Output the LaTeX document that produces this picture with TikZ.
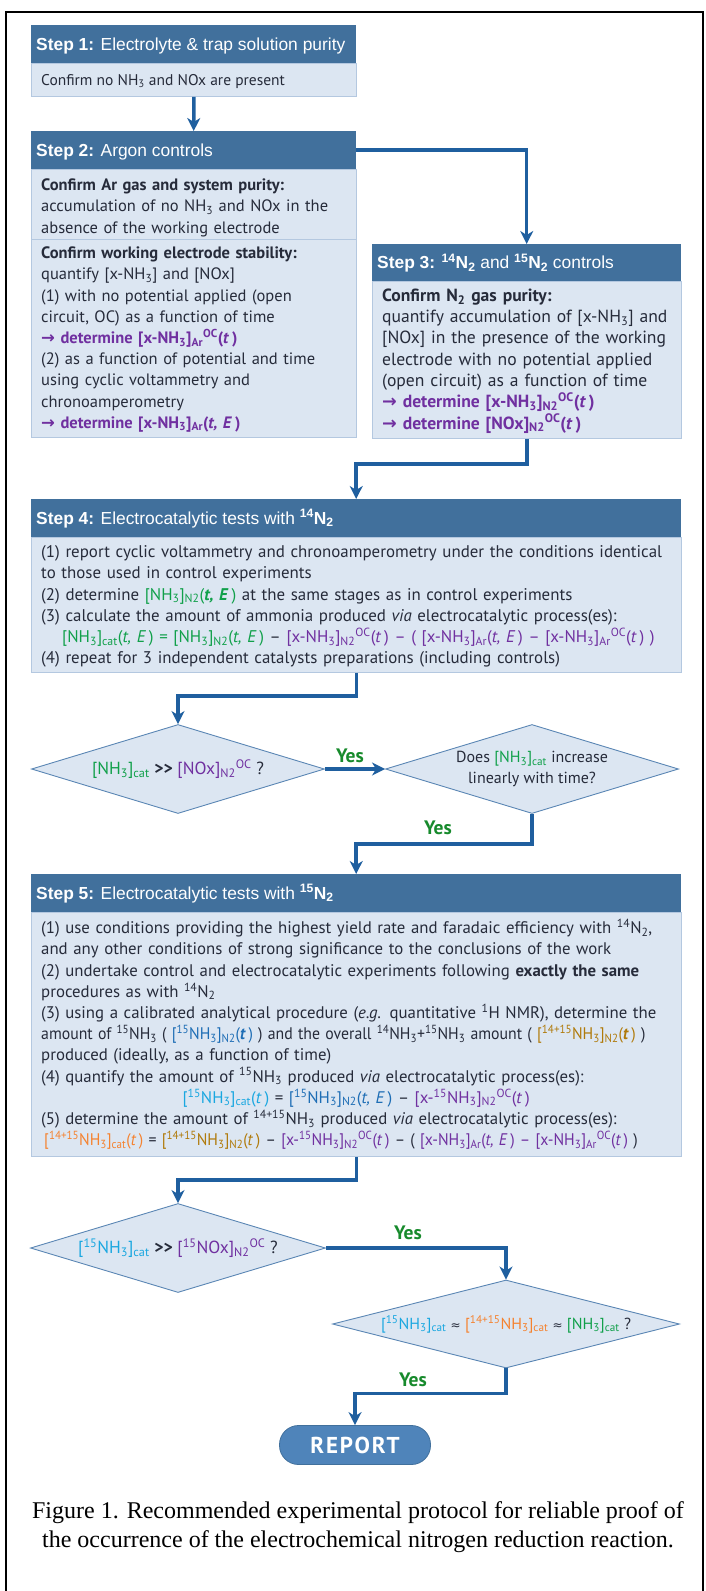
\documentclass[tikz,border=0pt]{standalone}
\usepackage{fontspec}
\setmainfont{PT Sans}
\newfontfamily\hdrf{Liberation Sans}
\newfontfamily\symf{DejaVu Sans}
\newfontfamily\capf{Liberation Serif}
\usetikzlibrary{arrows.meta,shapes.geometric,calc}
\definecolor{hdr}{HTML}{41709C}
\definecolor{bodyc}{HTML}{DCE6F2}
\definecolor{bodyb}{HTML}{B4C8E0}
\definecolor{connc}{HTML}{1F5F9F}
\definecolor{txt}{HTML}{262B3A}
\definecolor{grn}{HTML}{10A04A}
\definecolor{pur}{HTML}{7030A0}
\definecolor{cyn}{HTML}{1AA7E0}
\definecolor{blu}{HTML}{1D6DB5}
\definecolor{org}{HTML}{F5822F}
\definecolor{brn}{HTML}{B07A0A}
\definecolor{yesc}{HTML}{178A2C}
\definecolor{repc}{HTML}{4F84BA}
\definecolor{diab}{HTML}{5A86B4}
\newcommand\Sub[1]{\textsubscript{#1}}
\newcommand\Sup[1]{\textsuperscript{#1}}
\newcommand\myarr{{\symf →}}
\newcommand\aprx{{\symf\fontsize{12}{12}\selectfont ≈}}
\newlength\mylsl
\setlength\mylsl{-20pt}
\newcommand\fstr{\lineskiplimit\mylsl\rule{0pt}{17pt}}
\tikzset{
 hdrbox/.style={rectangle, fill=hdr, inner sep=0pt, anchor=north west},
 bodybox/.style={rectangle, fill=bodyc, draw=bodyb, line width=0.8pt, inner sep=0pt, anchor=north west},
 hdrtxt/.style={anchor=base west, inner sep=0pt, text=white, font=\hdrf\fontsize{17.4}{20}\selectfont},
 bodytxt/.style={anchor=north west, inner sep=0pt, text=txt, align=left, text width=660pt, font=\fontsize{16}{21.2}\selectfont},
 linetxt/.style={anchor=base west, inner sep=0pt, text=txt, font=\fontsize{15.5}{21.2}\selectfont},
 conn/.style={draw=connc, line width=3.5pt, -{Stealth[length=13pt,width=13pt,inset=4pt]}},
 dia/.style={diamond, fill=bodyc, draw=diab, line width=0.9pt, inner sep=0pt},
 diatxt/.style={inner sep=0pt, text=txt, align=center, font=\fontsize{16}{21}\selectfont},
 yestxt/.style={inner sep=0pt, text=yesc, font=\bfseries\fontsize{19.5}{20}\selectfont},
}
\begin{document}
\begin{tikzpicture}[x=1pt,y=-1pt]
\useasboundingbox (0,0) rectangle (705,1591);
% frame
\draw[line width=1.8pt] (6,1591) -- (6,12) -- (703,12) -- (703,1591);
% Step 1
\node[hdrbox, minimum width=325pt, minimum height=38pt] (h1) at (31,25) {};
\node[bodybox, minimum width=325pt, minimum height=33pt] (b1) at (31,63) {};
\node[hdrtxt] (t1) at (36,50) {\textbf{Step 1:} Electrolyte \& trap solution purity};
\node[linetxt] (s1) at (41,85) {Confirm no NH\Sub{3} and NOx are present};
% Step 2
\node[hdrbox, minimum width=325pt, minimum height=38pt] (h2) at (31,131) {};
\node[bodybox, minimum width=325pt, minimum height=268pt] (b2) at (31,169) {};
\draw[bodyb, line width=1pt] (31,239) -- (356,239);
\node[hdrtxt] (t2) at (36,156) {\textbf{Step 2:} Argon controls};
\node[bodytxt, font=\fontsize{16.5}{21.2}\selectfont] (s2a) at (41,173.5) {\fstr\textbf{Confirm Ar gas and system purity:}\\
accumulation of no NH\Sub{3} and NOx in the\\
absence of the working electrode};
\node[bodytxt, font=\fontsize{16.5}{21.2}\selectfont] (s2b) at (41,241.5) {\fstr\textbf{Confirm working electrode stability:}\\
quantify [x-NH\Sub{3}] and [NOx]\\
(1) with no potential applied (open\\
circuit, OC) as a function of time\\
{\color{pur}\bfseries\myarr{} determine [x-NH\Sub{3}]\Sub{Ar}\Sup{OC}(\textit{t}\,)}\\
(2) as a function of potential and time\\
using cyclic voltammetry and\\
chronoamperometry\\
{\color{pur}\bfseries\myarr{} determine [x-NH\Sub{3}]\Sub{Ar}(\textit{t, E}\,)}};
% Step 3
\node[hdrbox, minimum width=309pt, minimum height=37pt] (h3) at (372,244) {};
\node[bodybox, minimum width=309pt, minimum height=157pt] (b3) at (372,281) {};
\node[hdrtxt] (t3) at (377,268.5) {\textbf{Step 3: \Sup{14}N\Sub{2}} and \textbf{\Sup{15}N\Sub{2}} controls};
\node[bodytxt, font=\fontsize{17.6}{21.3}\selectfont] (s3) at (382,284) {\fstr\textbf{Confirm N\Sub{2} gas purity:}\\
quantify accumulation of [x-NH\Sub{3}] and\\{}%
[NOx] in the presence of the working\\
electrode with no potential applied\\
(open circuit) as a function of time\\
{\color{pur}\bfseries\myarr{} determine [x-NH\Sub{3}]\Sub{N2}\Sup{OC}(\textit{t}\,)}\\
{\color{pur}\bfseries\myarr{} determine [NOx]\Sub{N2}\Sup{OC}(\textit{t}\,)}};
% Step 4
\node[hdrbox, minimum width=650pt, minimum height=38pt] (h4) at (31,499) {};
\node[bodybox, minimum width=650pt, minimum height=135pt] (b4) at (31,537) {};
\node[hdrtxt] (t4) at (36,524) {\textbf{Step 4:} Electrocatalytic tests with \textbf{\Sup{14}N\Sub{2}}};
\node[bodytxt, font=\fontsize{16.9}{21.2}\selectfont] (s4) at (41,540.5) {\fstr(1) report cyclic voltammetry and chronoamperometry under the conditions identical\\
to those used in control experiments\\
(2) determine \textcolor{grn}{[NH\Sub{3}]\Sub{N2}(\textbf{\textit{t, E}}\,)} at the same stages as in control experiments\\
(3) calculate the amount of ammonia produced \textit{via} electrocatalytic process(es):\\
\hspace*{21pt}\textcolor{grn}{[NH\Sub{3}]\Sub{cat}(\textit{t, E}\,) = [NH\Sub{3}]\Sub{N2}(\textit{t, E}\,)} – \textcolor{pur}{[x-NH\Sub{3}]\Sub{N2}\Sup{OC}(\textit{t}\,) – ( [x-NH\Sub{3}]\Sub{Ar}(\textit{t, E}\,) – [x-NH\Sub{3}]\Sub{Ar}\Sup{OC}(\textit{t}\,) )}\\
(4) repeat for 3 independent catalysts preparations (including controls)};
% diamonds row 1
\node[dia, minimum width=293pt, minimum height=89pt] (d1) at (178,769) {};
\node[diatxt, font=\fontsize{17.5}{21}\selectfont] (d1t) at (178,769) {\textcolor{grn}{[NH\Sub{3}]\Sub{cat}} \textbf{>\kern0pt>} \textcolor{pur}{[NOx]\Sub{N2}\Sup{OC}} ?};
\node[dia, minimum width=293pt, minimum height=89pt] (d2) at (532,769) {};
\node[diatxt] (d2t) at (532,769) {Does \textcolor{grn}{[NH\Sub{3}]\Sub{cat}} increase\\linearly with time?};
\node[yestxt] (y1) at (350,756) {Yes};
\node[yestxt] (y2) at (438,828) {Yes};
% Step 5
\node[hdrbox, minimum width=650pt, minimum height=38pt] (h5) at (31,874) {};
\node[bodybox, minimum width=650pt, minimum height=244pt] (b5) at (31,912) {};
\node[hdrtxt] (t5) at (36,899) {\textbf{Step 5:} Electrocatalytic tests with \textbf{\Sup{15}N\Sub{2}}};
\node[bodytxt, font=\fontsize{16.8}{21.2}\selectfont] (s5) at (41,916.5) {\fstr(1) use conditions providing the highest yield rate and faradaic efficiency with \Sup{14}N\Sub{2},\\
and any other conditions of strong significance to the conclusions of the work\\
(2) undertake control and electrocatalytic experiments following \textbf{exactly the same}\\
procedures as with \Sup{14}N\Sub{2}\\
(3) using a calibrated analytical procedure (\textit{e.g.} quantitative \Sup{1}H NMR), determine the\\
\scalebox{0.94}[1]{amount of \Sup{15}NH\Sub{3} ( \textcolor{blu}{[\Sup{15}NH\Sub{3}]\Sub{N2}(\textbf{\textit{t}}\,)} ) and the overall \Sup{14}NH\Sub{3}+\Sup{15}NH\Sub{3} amount ( \textcolor{brn}{[\Sup{14+15}NH\Sub{3}]\Sub{N2}(\textbf{\textit{t}}\,)} )}\\
produced (ideally, as a function of time)\\
(4) quantify the amount of \Sup{15}NH\Sub{3} produced \textit{via} electrocatalytic process(es):\\
\makebox[630pt][c]{\textcolor{cyn}{[\Sup{15}NH\Sub{3}]\Sub{cat}(\textit{t}\,)} = \textcolor{blu}{[\Sup{15}NH\Sub{3}]\Sub{N2}(\textit{t, E}\,)} – \textcolor{pur}{[x-\Sup{15}NH\Sub{3}]\Sub{N2}\Sup{OC}(\textit{t}\,)}}\\
(5) determine the amount of \Sup{14+15}NH\Sub{3} produced \textit{via} electrocatalytic process(es):\\
\hspace*{3pt}\scalebox{0.94}[1]{\textcolor{org}{[\Sup{14+15}NH\Sub{3}]\Sub{cat}(\textit{t}\,)} = \textcolor{brn}{[\Sup{14+15}NH\Sub{3}]\Sub{N2}(\textit{t}\,)} – \textcolor{pur}{[x-\Sup{15}NH\Sub{3}]\Sub{N2}\Sup{OC}(\textit{t}\,)} – ( \textcolor{pur}{[x-NH\Sub{3}]\Sub{Ar}(\textit{t, E}\,) – [x-NH\Sub{3}]\Sub{Ar}\Sup{OC}(\textit{t}\,)} )}};
% diamonds row 2
\node[dia, minimum width=295pt, minimum height=89pt] (d3) at (178,1248) {};
\node[diatxt, font=\fontsize{17.5}{21}\selectfont] (d3t) at (178,1248) {\textcolor{cyn}{[\Sup{15}NH\Sub{3}]\Sub{cat}} \textbf{>\kern0pt>} \textcolor{pur}{[\Sup{15}NOx]\Sub{N2}\Sup{OC}} ?};
\node[dia, minimum width=347pt, minimum height=88pt] (d4) at (506,1324) {};
\node[diatxt] (d4t) at (506,1324) {\textcolor{cyn}{[\Sup{15}NH\Sub{3}]\Sub{cat}} \aprx{} \textcolor{org}{[\Sup{14+15}NH\Sub{3}]\Sub{cat}} \aprx{} \textcolor{grn}{[NH\Sub{3}]\Sub{cat}} ?};
\node[yestxt] (y3) at (408,1233) {Yes};
\node[yestxt] (y4) at (413,1380) {Yes};
% report
\node[rectangle, rounded corners=19pt, fill=repc, draw=hdr, line width=0.8pt, minimum width=151pt, minimum height=39pt, inner sep=0pt, text=white, font=\bfseries\fontsize{23}{24}\selectfont] (rep) at (355,1445) {\addfontfeature{LetterSpace=8}REPORT};
% connectors
\draw[conn] (b1.south) -- (h2.north);
\draw[conn] (h2.east) -| (h3.north);
\draw[conn] (b3.south) -- ++(0,25) -| (h4.north);
\draw[conn] (b4.south) -- ++(0,23) -| (d1.north);
\draw[conn] (d1.east) -- (d2.west);
\draw[conn] (d2.south) -- ++(0,30) -| (h5.north);
\draw[conn] (b5.south) -- ++(0,23) -| (d3.north);
\draw[conn] (d3.east) -| (d4.north);
\draw[conn] (d4.south) -- ++(0,25) -| (rep.north);
% caption
\node[align=center, inner sep=0pt, font=\capf\fontsize{24}{29}\selectfont] (cap) at (358,1527) {Figure 1. Recommended experimental protocol for reliable proof of\\the occurrence of the electrochemical nitrogen reduction reaction.};
\end{tikzpicture}
\end{document}
